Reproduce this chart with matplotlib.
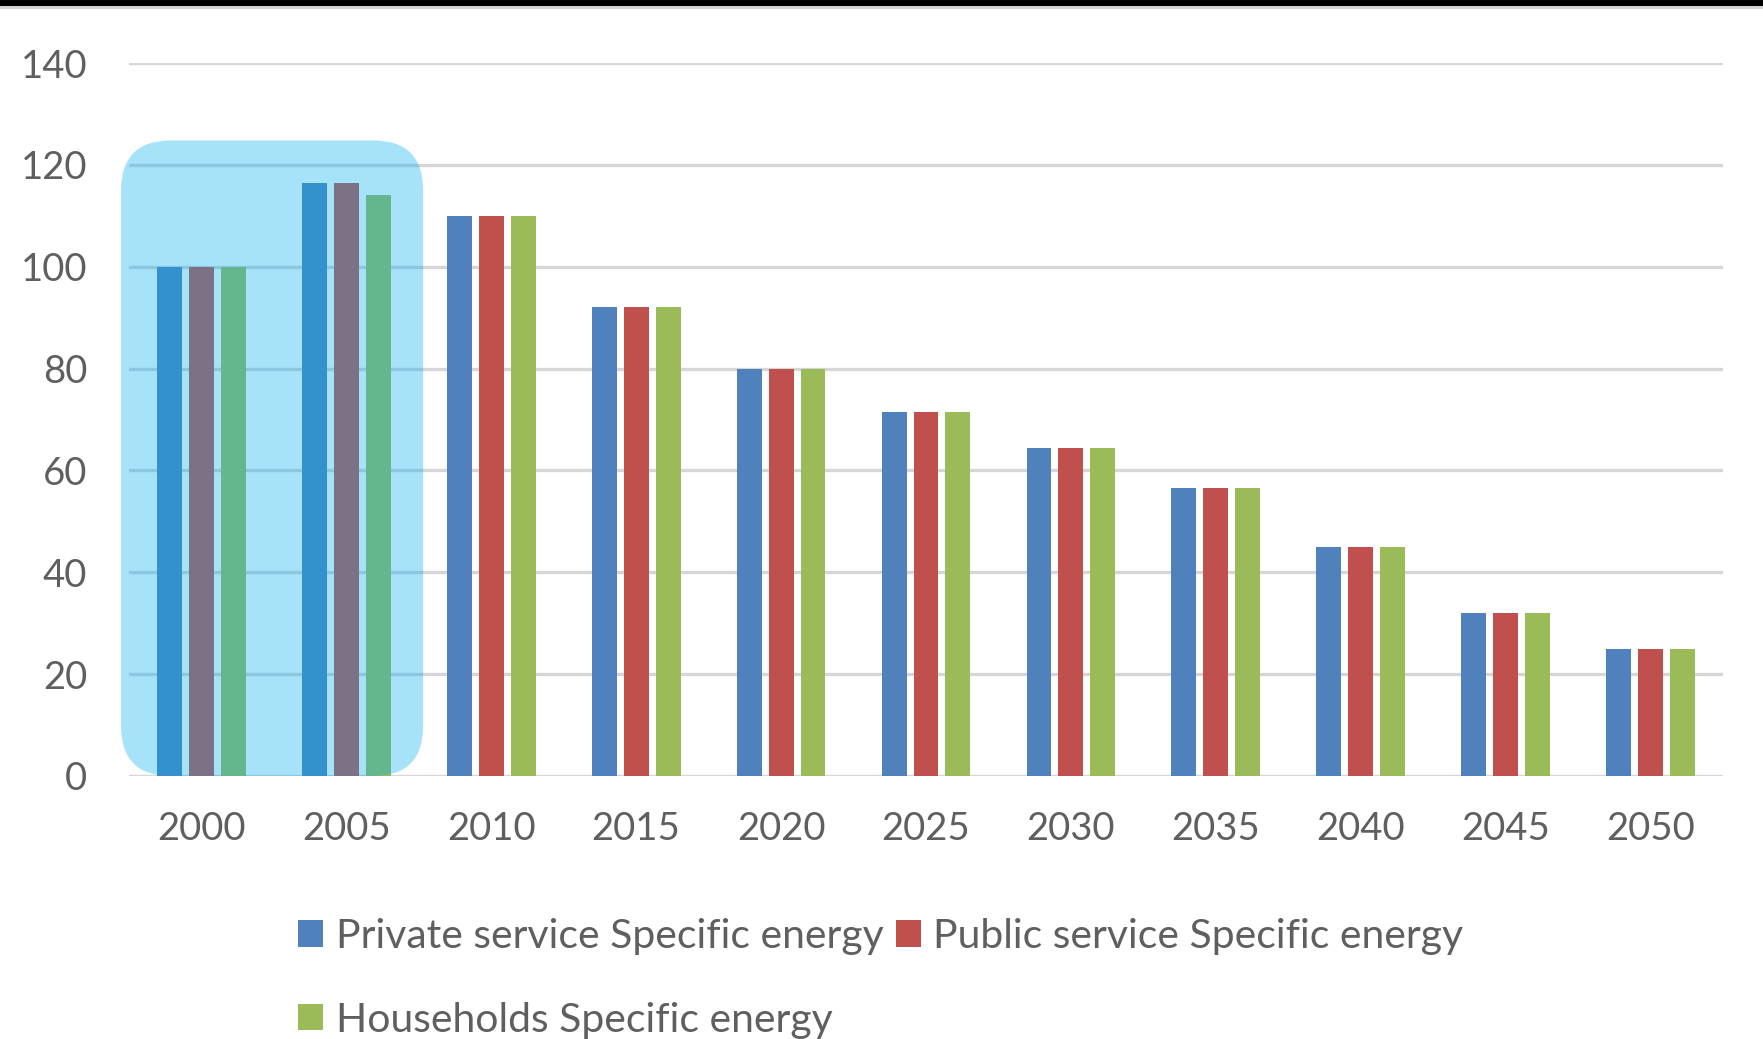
import matplotlib
matplotlib.use("Agg")
import matplotlib.pyplot as plt
from matplotlib.patches import FancyBboxPatch, Rectangle, Patch
import numpy as np

years = ["2000", "2005", "2010", "2015", "2020", "2025", "2030", "2035", "2040", "2045", "2050"]
private_service = [100, 116.5, 110, 92, 80, 71.5, 64.5, 56.5, 45, 32, 25]
public_service = [100, 116.5, 110, 92, 80, 71.5, 64.5, 56.5, 45, 32, 25]
households = [100, 114, 110, 92, 80, 71.5, 64.5, 56.5, 45, 32, 25]
series_names = ["Private service Specific energy",
                "Public service Specific energy",
                "Households Specific energy"]
y_ticks = [0, 20, 40, 60, 80, 100, 120, 140]

colors = ["#4f81bd", "#c0504d", "#9bbb59"]
text_color = "#5f5f5f"
grid_color = "#d6d6d6"
font = "Lato"

W, H, DPI = 1763, 1039, 100
fig = plt.figure(figsize=(W / DPI, H / DPI), dpi=DPI)
fig.patch.set_facecolor("white")

# axes placement in pixels
left_px, right_px = 129, 1723
top_px, bottom_px = 63, 776
ax = fig.add_axes([left_px / W, 1 - bottom_px / H,
                   (right_px - left_px) / W, (bottom_px - top_px) / H])

x = np.arange(len(years))
bar_w = 0.172
step = 0.22
for i, (vals, c) in enumerate(zip([private_service, public_service, households], colors)):
    ax.bar(x + (i - 1) * step, vals, width=bar_w, color=c, zorder=2,
           label=series_names[i])

ax.set_xlim(-0.5, len(years) - 0.5)
ax.set_ylim(0, 140)
ax.set_yticks(y_ticks)
ax.set_xticks(x)
ax.set_xticklabels(years)
ax.yaxis.grid(True, color=grid_color, linewidth=2.4, zorder=0)
ax.set_axisbelow(True)
for s in ax.spines.values():
    s.set_visible(False)
ax.tick_params(axis="both", length=0, labelsize=27.5, labelcolor=text_color)
ax.tick_params(axis="y", pad=30)
ax.tick_params(axis="x", pad=25)
for lab in ax.get_xticklabels() + ax.get_yticklabels():
    lab.set_fontfamily(font)

# translucent rounded highlight over the first two year groups
fig.canvas.draw()
px_per_x = ax.transData.transform((1, 0))[0] - ax.transData.transform((0, 0))[0]
px_per_y = ax.transData.transform((0, 1))[1] - ax.transData.transform((0, 0))[1]
radius_px = 50
box_left, box_right, box_top = -0.555, 1.53, 124.8
hl = FancyBboxPatch((box_left, 0), box_right - box_left, box_top,
                    boxstyle=f"round,pad=0,rounding_size={radius_px / px_per_x}",
                    mutation_aspect=px_per_x / px_per_y,
                    facecolor="#00b0f0", edgecolor="none", alpha=0.35,
                    zorder=3, clip_on=False)
ax.add_patch(hl)

# legend laid out row by row
handles = [Patch(facecolor=c, edgecolor="none") for c in colors]
order = [0, 2, 1]
leg = fig.legend([handles[i] for i in order], [series_names[i] for i in order],
                 ncol=2, loc="upper left",
                 bbox_to_anchor=(298 / W, 1 - 918 / H),
                 frameon=False, prop={"family": font, "size": 29.4},
                 handlelength=0.62, handleheight=0.62, handletextpad=0.3,
                 columnspacing=0.3, labelspacing=1.14, borderpad=0,
                 borderaxespad=0)
for t in leg.get_texts():
    t.set_color(text_color)

# dark band along the top edge
fig.add_artist(Rectangle((0, 1 - 6 / H), 1, 6 / H, transform=fig.transFigure,
                         facecolor="black", edgecolor="none"))
fig.add_artist(Rectangle((0, 1 - 9 / H), 1, 3 / H, transform=fig.transFigure,
                         facecolor="#d4d4d4", edgecolor="none"))

fig.savefig("out.png", dpi=DPI)
